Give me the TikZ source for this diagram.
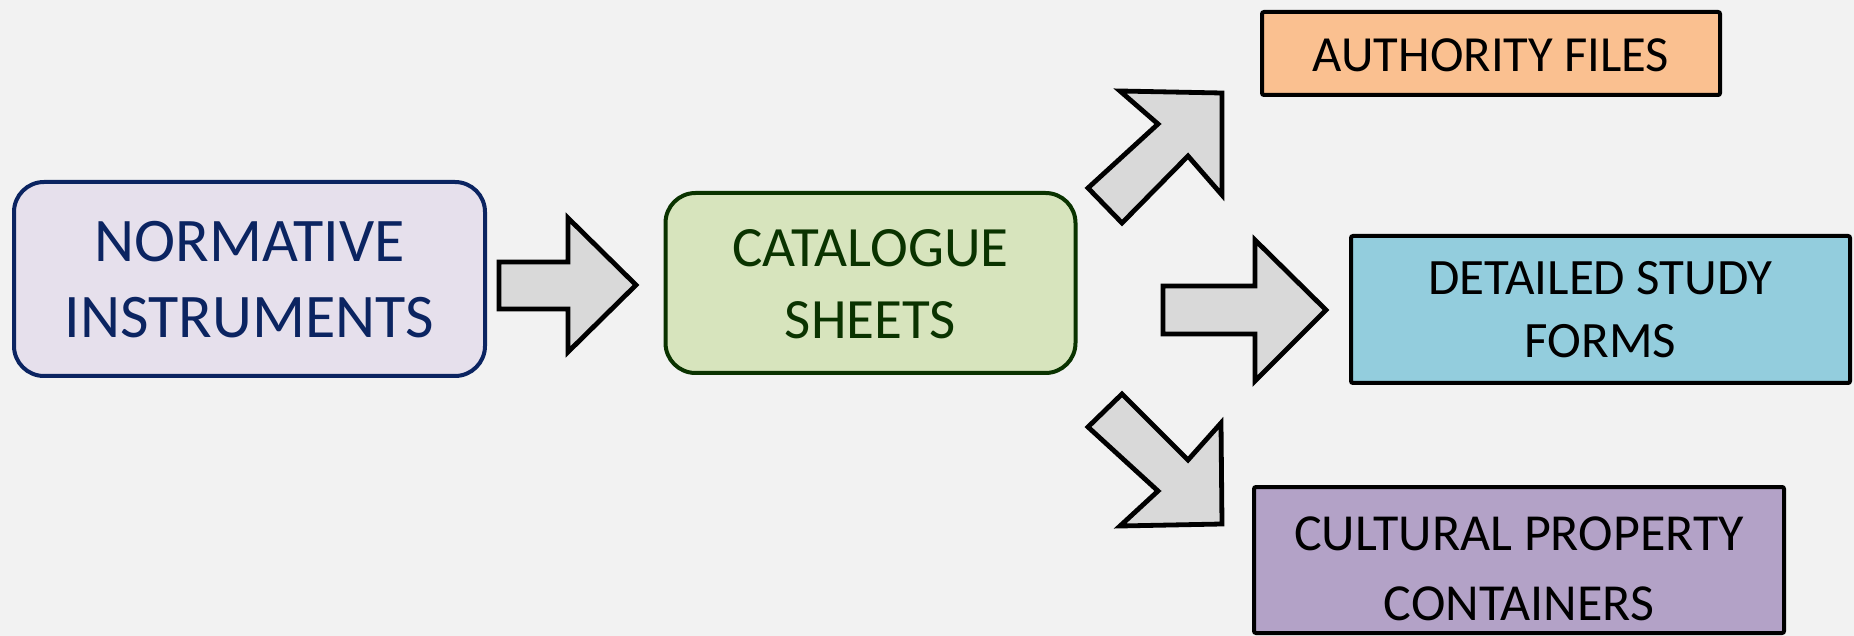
\documentclass[tikz,border=0pt]{standalone}
\usepackage{fontspec}
\setmainfont{Carlito}
\definecolor{bg}{HTML}{F2F2F2}
\definecolor{navy}{HTML}{0B2461}
\definecolor{lav}{HTML}{E6E0EC}
\definecolor{dgreen}{HTML}{0A3300}
\definecolor{lgreen}{HTML}{D7E4BD}
\definecolor{orng}{HTML}{FAC090}
\definecolor{lblue}{HTML}{93CDDD}
\definecolor{lpurp}{HTML}{B3A2C7}
\definecolor{arrgray}{HTML}{D9D9D9}
\tikzset{
  srcbox/.style={draw, line width=2pt, rounded corners=15pt, inner sep=0pt},
  dstbox/.style={draw=black, line width=2pt, rounded corners=1pt, inner sep=0pt},
  txt/.style={align=center, inner sep=0pt},
  blockarrow/.style={draw=black, fill=arrgray, line width=2.4pt, line join=miter}
}
\begin{document}
\begin{tikzpicture}[x=0.5pt, y=-0.5pt]
\useasboundingbox (0,0) rectangle (1854,636);
\fill[bg] (0,0) rectangle (1854,636);
\clip (0,0) rectangle (1854,636);

% source boxes
\node[srcbox, draw=navy, fill=lav, minimum width=235.5pt, minimum height=97pt] (norm) at (249.5,279) {};
\node[txt, text=navy, font=\fontsize{31pt}{38pt}\selectfont] (normtxt) at (249.5,280) {NORMATIVE\\INSTRUMENTS};

\node[srcbox, draw=dgreen, fill=lgreen, minimum width=205pt, minimum height=90pt] (cat) at (870.5,283) {};
\node[txt, text=dgreen, font=\fontsize{28.5pt}{36pt}\selectfont] (cattxt) at (870.5,284.5) {CATALOGUE\\SHEETS};

% destination boxes
\node[dstbox, fill=orng, minimum width=229pt, minimum height=41.5pt] (auth) at (1491,53.5) {};
\node[txt, font=\fontsize{25.3pt}{31pt}\selectfont] (authtxt) at (1491,55) {AUTHORITY FILES};

\node[dstbox, fill=lblue, minimum width=249.5pt, minimum height=73.5pt] (det) at (1600.5,309.5) {};
\node[txt, font=\fontsize{25.5pt}{31.5pt}\selectfont] (dettxt) at (1600.5,310) {DETAILED STUDY\\FORMS};

\node[dstbox, fill=lpurp, minimum width=265pt, minimum height=73pt] (cult) at (1519,560) {};
\node[txt, font=\fontsize{26pt}{35pt}\selectfont] (culttxt) at (1519,568.5) {CULTURAL PROPERTY\\CONTAINERS};

% block arrows
\draw[blockarrow] (499,262) -- (568,262) -- (568,218) -- (636,285) -- (568,352) -- (568,309) -- (499,309) -- cycle;
\draw[blockarrow] (1163,286) -- (1255,286) -- (1255,240) -- (1326,310) -- (1255,381) -- (1255,334) -- (1163,334) -- cycle;
\draw[blockarrow] (1120,91) -- (1222,93) -- (1222,195) -- (1188,156) -- (1122,223) -- (1088,188) -- (1158,124) -- cycle;
\draw[blockarrow] (1122,394) -- (1188,460) -- (1221,423) -- (1222,524) -- (1120,526) -- (1158,491) -- (1088,427) -- cycle;
\end{tikzpicture}
\end{document}
